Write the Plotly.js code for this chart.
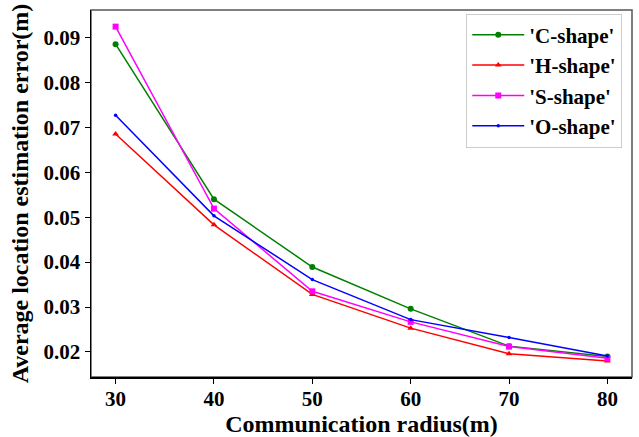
<!DOCTYPE html>
<html>
<head>
<meta charset="utf-8">
<script src="https://cdn.plot.ly/plotly-3.0.1.min.js"></script>
<style>html,body{margin:0;padding:0;background:#fff;}#chart{width:639px;height:437px;}</style>
</head>
<body>
<div id="chart"></div>
<script>
const radius = [30, 40, 50, 60, 70, 80];
const cShape = [0.0885, 0.0540, 0.0389, 0.0296, 0.0213, 0.0190];
const hShape = [0.0685, 0.0483, 0.0328, 0.0253, 0.0196, 0.0180];
const sShape = [0.0924, 0.0519, 0.0335, 0.0267, 0.0212, 0.0186];
const oShape = [0.0727, 0.0503, 0.0361, 0.0272, 0.0232, 0.0191];
const seriesNames = ["'C-shape'", "'H-shape'", "'S-shape'", "'O-shape'"];
const yTicks = [0.02, 0.03, 0.04, 0.05, 0.06, 0.07, 0.08, 0.09];
const xTicks = [30, 40, 50, 60, 70, 80];

const font = "Liberation Serif, Times New Roman, serif";
function tr(y, name, color, symbol, size) {
  return {x: radius, y: y, name: name, type: 'scatter', mode: 'lines+markers',
    line: {color: color, width: 1.5}, marker: {color: color, symbol: symbol, size: size},
    legendgroup: name};
}
const data = [
  tr(cShape, seriesNames[0], '#008000', 'circle', 6),
  tr(hShape, seriesNames[1], '#ff0000', 'triangle-up', 6),
  tr(sShape, seriesNames[2], '#ff00ff', 'square', 6),
  tr(oShape, seriesNames[3], '#0000ff', 'circle', 3.5)
];
const layout = {
  width: 639, height: 437,
  margin: {l: 91, r: 7, t: 10, b: 60},
  paper_bgcolor: '#fff', plot_bgcolor: '#fff',
  font: {family: font, color: '#000', size: 21},
  showlegend: true,
  legend: {x: 0.982, y: 0.99, xanchor: 'right', yanchor: 'top',
    bgcolor: 'rgba(255,255,255,0.9)', bordercolor: '#ccc', borderwidth: 1,
    itemwidth: 52,
    font: {family: font, size: 21, weight: 'bold'}, traceorder: 'grouped', tracegroupgap: 0},
  xaxis: {range: [27.5, 82.5], tickvals: xTicks, ticktext: xTicks.map(String),
    showgrid: false, zeroline: false, showline: true, linecolor: '#000', linewidth: 1.5,
    ticks: 'outside', ticklen: 5, tickcolor: '#000', tickwidth: 1, ticklabelstandoff: -3,
    tickfont: {family: font, size: 21, weight: 'bold'},
    title: {text: 'Communication radius(m)', font: {family: font, size: 24, weight: 'bold'}, standoff: 8}},
  yaxis: {range: [0.01443, 0.0961], tickvals: yTicks, ticktext: yTicks.map(v => v.toFixed(2)),
    showgrid: false, zeroline: false, showline: true, linecolor: '#000', linewidth: 1.5,
    ticks: 'outside', ticklen: 5, tickcolor: '#000', tickwidth: 1,
    tickfont: {family: font, size: 21, weight: 'bold'},
    title: {text: 'Average location estimation error(m)', font: {family: font, size: 24, weight: 'bold'}, standoff: 8}},
  shapes: [{type: 'rect', xref: 'paper', yref: 'paper', x0: 0, x1: 1, y0: 0, y1: 1,
    line: {color: '#555', width: 1.5}, layer: 'below'}]
};
Plotly.newPlot('chart', data, layout, {displayModeBar: false, staticPlot: true});
</script>
</body>
</html>
